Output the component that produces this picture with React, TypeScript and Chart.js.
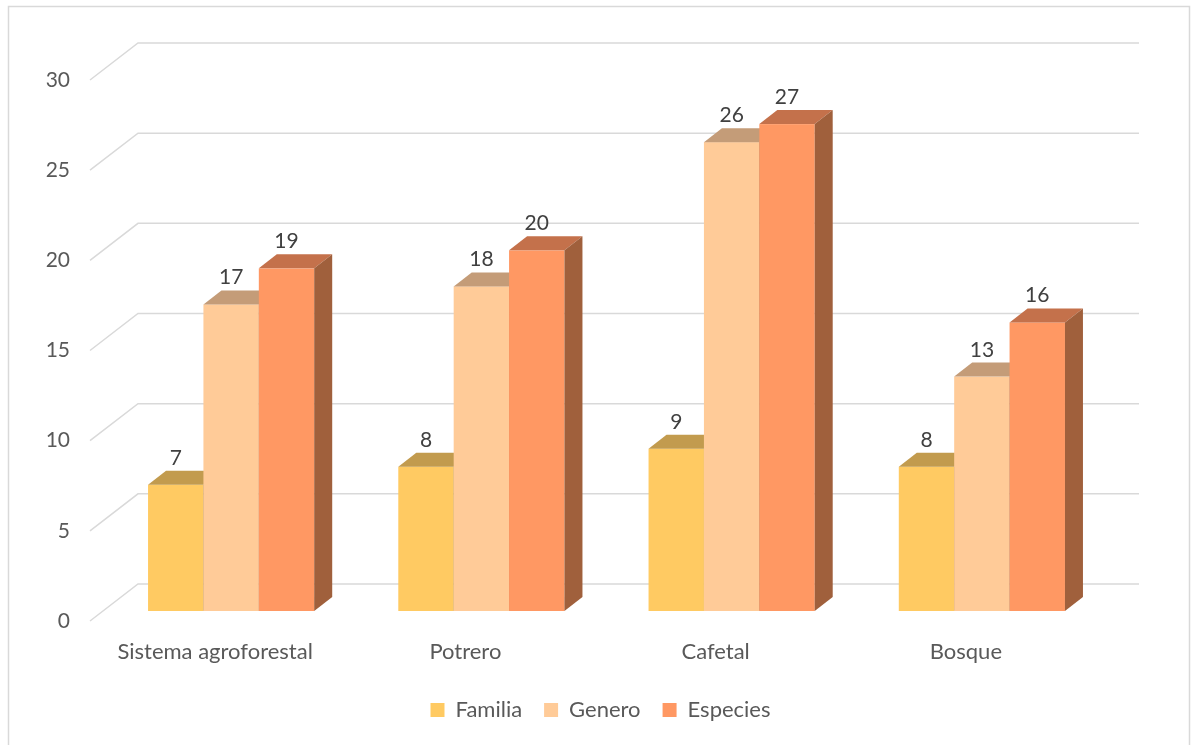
import React, { useEffect, useRef } from 'react';
import { Chart, registerables } from 'chart.js';

Chart.register(...registerables);

const categories = ['Sistema agroforestal', 'Potrero', 'Cafetal', 'Bosque'];
const seriesNames = ['Familia', 'Genero', 'Especies'];
const familia = [7, 8, 9, 8];
const genero = [17, 18, 26, 13];
const especies = [19, 20, 27, 16];
const yMin = 0;
const yMax = 30;
const yStep = 5;

const frontColors = ['#FFCA62', '#FFCB98', '#FF9863'];
const topColors = ['#C29B4E', '#C49C78', '#C4714B'];
const sideColors = ['#A6803C', '#A8845F', '#A0603C'];

const FONT = 'Lato, "Open Sans", sans-serif';
const TEXT = '#595959';
const LABEL = '#404040';
const GRID = '#d9d9d9';

const DEPTH_X = 18;
const DEPTH_Y = 14;
const SHIFT_X = 16;
const SHIFT_Y = -10;
const WALL_X = 48;
const WALL_Y = 37;

const bars3d = {
  id: 'bars3d',
  beforeDraw(chart: any) {
    const ctx = chart.ctx;
    ctx.save();
    ctx.strokeStyle = GRID;
    ctx.lineWidth = 1.5;
    ctx.strokeRect(8.5, 6.5, 1181, 800);
    ctx.restore();
  },
  beforeDatasetsDraw(chart: any) {
    const ctx = chart.ctx;
    const { left, right } = chart.chartArea;
    const ys = chart.scales.y;
    ctx.save();
    ctx.strokeStyle = GRID;
    ctx.lineWidth = 1.5;
    ys.ticks.forEach((t: any) => {
      const py = ys.getPixelForValue(t.value);
      ctx.beginPath();
      ctx.moveTo(left, py);
      ctx.lineTo(left + WALL_X, py - WALL_Y);
      ctx.lineTo(right + WALL_X, py - WALL_Y);
      ctx.stroke();
    });

    ctx.translate(SHIFT_X, SHIFT_Y);
    const n = chart.data.labels.length;
    const nd = chart.data.datasets.length;
    const labels: any[] = [];
    for (let j = 0; j < n; j++) {
      for (let i = 0; i < nd; i++) {
        const meta = chart.getDatasetMeta(i);
        const el = meta.data[j];
        if (!el) continue;
        const p = el.getProps(['x', 'y', 'base', 'width'], true);
        const l = p.x - p.width / 2;
        const r = p.x + p.width / 2;
        const top = p.y;
        const base = p.base;
        ctx.fillStyle = frontColors[i];
        ctx.fillRect(l, top, r - l, base - top);
        ctx.fillStyle = topColors[i];
        ctx.beginPath();
        ctx.moveTo(l, top);
        ctx.lineTo(l + DEPTH_X, top - DEPTH_Y);
        ctx.lineTo(r + DEPTH_X, top - DEPTH_Y);
        ctx.lineTo(r, top);
        ctx.closePath();
        ctx.fill();
        ctx.fillStyle = sideColors[i];
        ctx.beginPath();
        ctx.moveTo(r, top);
        ctx.lineTo(r + DEPTH_X, top - DEPTH_Y);
        ctx.lineTo(r + DEPTH_X, base - DEPTH_Y);
        ctx.lineTo(r, base);
        ctx.closePath();
        ctx.fill();
        labels.push({ x: p.x, y: top - 20, v: chart.data.datasets[i].data[j] });
      }
    }
    ctx.fillStyle = LABEL;
    ctx.font = '21px ' + FONT;
    ctx.textAlign = 'center';
    ctx.textBaseline = 'alphabetic';
    labels.forEach((lb) => ctx.fillText(String(lb.v), lb.x, lb.y));
    ctx.restore();
    return false;
  },
};

export default function App() {
  const ref = useRef<HTMLCanvasElement | null>(null);
  useEffect(() => {
    if (!ref.current) return;
    const chart = new Chart(ref.current, {
      type: 'bar',
      data: {
        labels: categories,
        datasets: [
          { label: seriesNames[0], data: familia, backgroundColor: frontColors[0] },
          { label: seriesNames[1], data: genero, backgroundColor: frontColors[1] },
          { label: seriesNames[2], data: especies, backgroundColor: frontColors[2] },
        ],
      },
      options: {
        animation: false,
        responsive: false,
        devicePixelRatio: 1,
        datasets: { bar: { categoryPercentage: 0.664, barPercentage: 1.0 } },
        layout: { padding: { top: 80, left: 10, right: 0, bottom: 14 } },
        plugins: {
          legend: {
            position: 'bottom',
            labels: {
              boxWidth: 14,
              boxHeight: 14,
              padding: 22,
              color: TEXT,
              font: { family: FONT, size: 22 },
            },
          },
          tooltip: { enabled: false },
        },
        scales: {
          x: {
            grid: { display: false },
            border: { display: false },
            ticks: { color: TEXT, font: { family: FONT, size: 22 }, padding: 10, maxRotation: 0 },
            afterFit: (s: any) => { s.height = 56; },
          },
          y: {
            min: yMin,
            max: yMax,
            grid: { display: false },
            border: { display: false },
            ticks: { stepSize: yStep, color: TEXT, font: { family: FONT, size: 21 }, padding: 12 },
            afterFit: (s: any) => { s.width = 80; },
          },
          y2: {
            position: 'right',
            display: true,
            grid: { display: false },
            border: { display: false },
            ticks: { display: false },
            afterFit: (s: any) => { s.width = 100; },
          },
        },
      },
      plugins: [bars3d],
    } as any);
    return () => chart.destroy();
  }, []);
  return (
    <div style={{ position: 'fixed', left: 0, top: 0, width: 1191, height: 745, background: '#fff' }}>
      <canvas ref={ref} width={1191} height={745} style={{ display: 'block' }} />
    </div>
  );
}
